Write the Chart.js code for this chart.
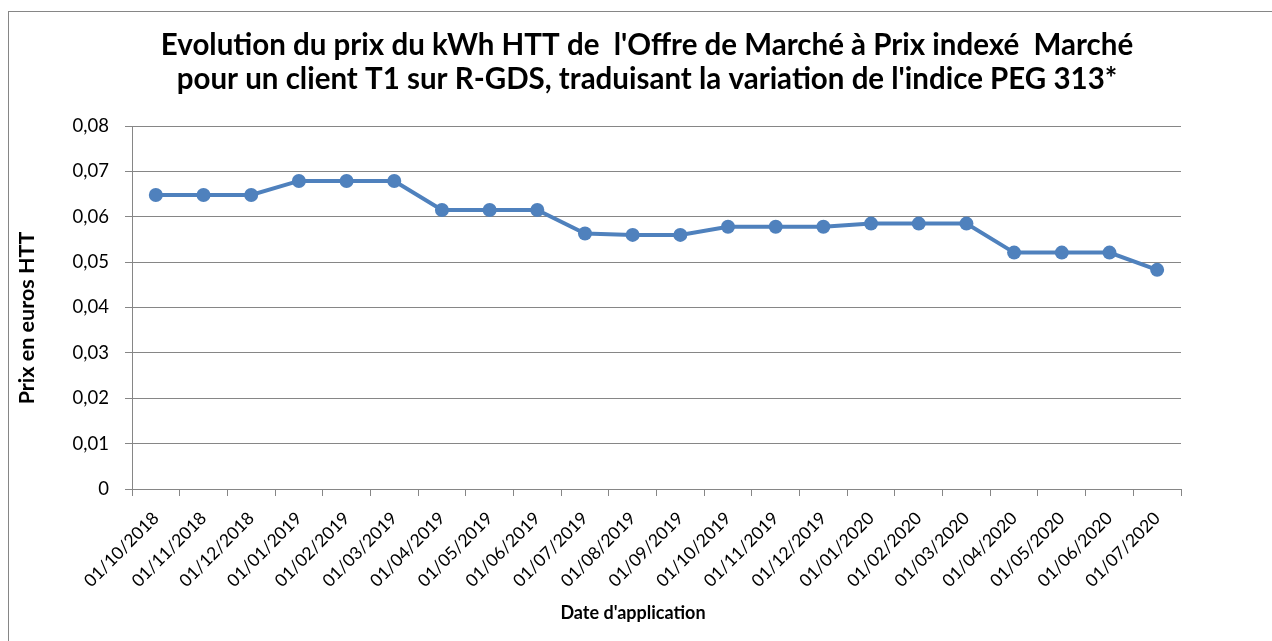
<!DOCTYPE html>
<html>
<head>
<meta charset="utf-8">
<script src="https://cdn.jsdelivr.net/npm/chart.js@4"></script>
<style>
  html, body { margin: 0; padding: 0; background: #fff; overflow: hidden; }
  #wrap { position: relative; width: 1272px; height: 641px; }
  #frame { position: absolute; left: 8px; top: 11px; width: 1300px; height: 700px; border: 1px solid #868686; box-sizing: border-box; }
  canvas { position: absolute; left: 0; top: 0; }
</style>
</head>
<body>
<div id="wrap">
  <div id="frame"></div>
  <canvas id="chart" width="1272" height="641"></canvas>
</div>
<script>
// dates d'application (x axis)
const dates = [
  '01/10/2018', '01/11/2018', '01/12/2018',
  '01/01/2019', '01/02/2019', '01/03/2019', '01/04/2019', '01/05/2019', '01/06/2019',
  '01/07/2019', '01/08/2019', '01/09/2019', '01/10/2019', '01/11/2019', '01/12/2019',
  '01/01/2020', '01/02/2020', '01/03/2020', '01/04/2020', '01/05/2020', '01/06/2020',
  '01/07/2020'
];

// prix du kWh HTT (euros)
const prix = [
  0.0648, 0.0648, 0.0648,
  0.0679, 0.0679, 0.0679, 0.0615, 0.0615, 0.0615,
  0.0563, 0.0560, 0.0560, 0.0578, 0.0578, 0.0578,
  0.0585, 0.0585, 0.0585, 0.0521, 0.0521, 0.0521,
  0.0483
];

const titleLines = [
  "Evolution du prix du kWh HTT de  l'Offre de Marché à Prix indexé  Marché",
  "pour un client T1 sur R-GDS, traduisant la variation de l'indice PEG 313*"
];
const xTitle = "Date d'application";
const yTitle = 'Prix en euros HTT';

const lineColor = '#4F81BD';
const gridColor = '#868686';
const fontFamily = 'Lato, "Liberation Sans", sans-serif';

// axis titles, placed a bit off-centre like the original
const axisTitles = {
  id: 'axisTitles',
  afterDraw(chart) {
    const ctx = chart.ctx;
    ctx.save();
    ctx.fillStyle = '#000';
    ctx.textAlign = 'center';
    ctx.textBaseline = 'middle';
    ctx.font = 'bold 18px ' + fontFamily;
    ctx.fillText(xTitle, 633, 613);
    ctx.translate(27, 318);
    ctx.rotate(-Math.PI / 2);
    ctx.font = 'bold 21.5px ' + fontFamily;
    ctx.fillText(yTitle, 0, 0);
    ctx.restore();
  }
};

new Chart(document.getElementById('chart'), {
  type: 'line',
  data: {
    labels: dates,
    datasets: [{
      data: prix,
      borderColor: lineColor,
      backgroundColor: lineColor,
      borderWidth: 4,
      pointRadius: 7,
      pointHoverRadius: 7,
      pointBorderWidth: 0,
      tension: 0
    }]
  },
  plugins: [axisTitles],
  options: {
    responsive: false,
    animation: false,
    layout: { padding: { left: 9, top: 12, right: -13, bottom: 0 } },
    plugins: {
      legend: { display: false },
      tooltip: { enabled: false },
      title: {
        display: true,
        text: titleLines,
        color: '#000',
        font: { family: fontFamily, size: 29.5, weight: 'bold', lineHeight: 1.17 },
        padding: { top: 16, bottom: 29 }
      }
    },
    scales: {
      x: {
        offset: true,
        grid: { offset: true, drawOnChartArea: false, drawTicks: true, tickLength: 7, color: gridColor },
        border: { color: gridColor, width: 1 },
        ticks: { color: '#000', font: { family: fontFamily, size: 17.5 }, maxRotation: 45, minRotation: 45, autoSkip: false, padding: 12 },
        afterFit: function(scale) { scale.height = 152; }
      },
      y: {
        min: 0,
        max: 0.08,
        grid: { color: gridColor, tickLength: 7 },
        border: { color: gridColor, width: 1 },
        ticks: {
          stepSize: 0.01,
          color: '#000',
          padding: 16,
          font: { family: fontFamily, size: 18.5 },
          callback: function(v) { return v === 0 ? '0' : v.toFixed(2).replace('.', ','); }
        },
        afterFit: function(scale) { scale.width = 123; }
      },
      // empty right-hand box, only reserves the margin on the right of the plot
      yR: {
        position: 'right',
        grid: { display: false },
        border: { display: false },
        ticks: { display: false },
        afterFit: function(scale) { scale.width = 104; }
      }
    }
  }
});
</script>
</body>
</html>
